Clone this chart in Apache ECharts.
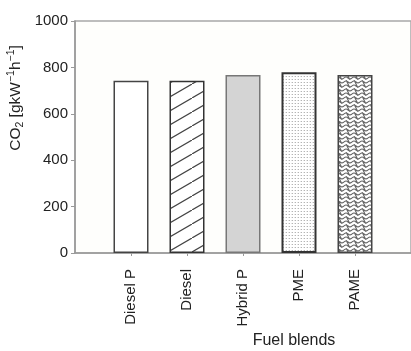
<!DOCTYPE html>
<html>
<head>
<meta charset="utf-8">
<script src="https://cdn.jsdelivr.net/npm/echarts@6/dist/echarts.min.js"></script>
<style>html,body{margin:0;padding:0;background:#fff;}#c{width:411px;height:351px;}</style>
</head>
<body>
<div id="c"></div>
<script>
const categories = ['Diesel P', 'Diesel', 'Hybrid P', 'PME', 'PAME'];
const co2Values = [742, 742, 767, 779, 767];
const yTicks = [0, 200, 400, 600, 800, 1000];
const xTitle = 'Fuel blends';

function makeTile(w, h, draw) {
  const c = document.createElement('canvas');
  c.width = w; c.height = h;
  const g = c.getContext('2d');
  g.fillStyle = '#fff'; g.fillRect(0, 0, w, h);
  draw(g, w, h);
  return { image: c, repeat: 'repeat' };
}
const hatch = makeTile(24, 14, (g, w, h) => {
  g.strokeStyle = '#444'; g.lineWidth = 1.2;
  g.beginPath();
  g.moveTo(-24, 28); g.lineTo(24, 0);
  g.moveTo(0, 14); g.lineTo(24, 0);
  g.moveTo(0, 14); g.lineTo(48, -14);
  g.stroke();
});
const dots = makeTile(3, 3, (g) => {
  g.fillStyle = '#b4b4b4'; g.fillRect(1, 1, 1, 1);
  g.fillStyle = '#e4e4e4'; g.fillRect(0, 1, 1, 1);
});
const weave = makeTile(8, 8, (g) => {
  g.strokeStyle = '#666'; g.lineWidth = 1.1;
  g.beginPath();
  g.moveTo(0, 2); g.quadraticCurveTo(2, 0, 4, 2); g.quadraticCurveTo(6, 4, 8, 2);
  g.moveTo(0, 6); g.quadraticCurveTo(2, 4, 4, 6); g.quadraticCurveTo(6, 8, 8, 6);
  g.moveTo(2, 0); g.lineTo(6, 8);
  g.stroke();
});

const barStyles = [
  { color: '#ffffff', borderColor: '#444', borderWidth: 1.5 },
  { color: hatch, borderColor: '#333', borderWidth: 1.5 },
  { color: '#d4d4d4', borderColor: '#777', borderWidth: 1.5 },
  { color: dots, borderColor: '#333', borderWidth: 2 },
  { color: weave, borderColor: '#444', borderWidth: 1.5 }
];

const font = 'Liberation Sans, Arial, sans-serif';
const chart = echarts.init(document.getElementById('c'), null, { renderer: 'canvas' });
const xPositions = categories.map((_, i) => i + 1);
chart.setOption({
  animation: false,
  backgroundColor: '#fff',
  grid: { left: 75, right: -2, top: 21, bottom: 98, show: true, borderColor: '#a8a8a8', borderWidth: 1.5, backgroundColor: '#fefefc' },
  xAxis: {
    type: 'value', min: 0, max: categories.length + 1, interval: 1,
    splitLine: { show: false },
    axisLine: { lineStyle: { color: '#999', width: 1.5 } },
    axisTick: { show: true, customValues: xPositions, length: 3, lineStyle: { color: '#999' } },
    axisLabel: {
      customValues: xPositions, rotate: 90, margin: 16,
      fontSize: 15, color: '#222', fontFamily: font,
      formatter: v => categories[Math.round(v) - 1] || ''
    }
  },
  yAxis: {
    type: 'value', min: yTicks[0], max: yTicks[yTicks.length - 1], interval: 200,
    splitLine: { show: false },
    axisLine: { show: true, lineStyle: { color: '#999', width: 1.5 } },
    axisTick: { show: true, length: 4, lineStyle: { color: '#999' } },
    axisLabel: { fontSize: 15, color: '#222', margin: 7, fontFamily: font, formatter: v => String(v) }
  },
  series: [{
    type: 'bar', barWidth: 35,
    data: co2Values.map((v, i) => ({ value: [xPositions[i], v], itemStyle: barStyles[i] }))
  }],
  graphic: [
    {
      type: 'text', x: 16, y: 98, rotation: Math.PI / 2,
      style: {
        text: '{n|CO}{sub|2}{n| [gkW}{sup|−1}{n|h}{sup|−1}{n|]}',
        align: 'center', verticalAlign: 'middle',
        fill: '#222', fontFamily: font,
        rich: {
          n: { fontSize: 15.5, fill: '#222', lineHeight: 20, verticalAlign: 'middle', fontFamily: font },
          sub: { fontSize: 10.5, fill: '#222', lineHeight: 20, verticalAlign: 'bottom', fontFamily: font },
          sup: { fontSize: 10.5, fill: '#222', lineHeight: 20, verticalAlign: 'top', fontFamily: font }
        }
      }
    },
    {
      type: 'text', x: 294, y: 341,
      style: { text: xTitle, align: 'center', verticalAlign: 'middle', fontSize: 16, fill: '#222', fontFamily: font }
    }
  ]
});
</script>
</body>
</html>
